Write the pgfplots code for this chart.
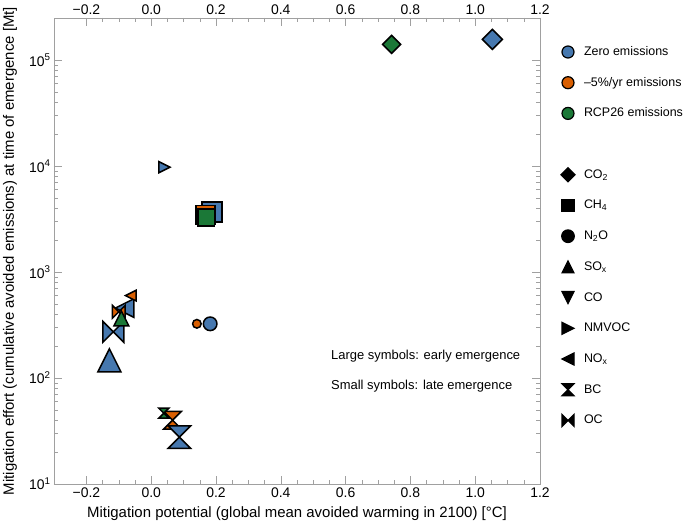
\documentclass[border=0pt]{standalone}
\usepackage{fontspec}
\setmainfont{Liberation Sans}
\usepackage{pgfplots}
\pgfplotsset{compat=1.18}
\definecolor{zblue}{HTML}{4678AF}
\definecolor{zorange}{HTML}{D95F02}
\definecolor{zgreen}{HTML}{1B7837}
\definecolor{axgray}{HTML}{A0A0A0}
\newcommand{\ms}{\pgfplotmarksize}
\pgfdeclareplotmark{dia}{\pgfpathmoveto{\pgfqpoint{0pt}{\ms}}\pgfpathlineto{\pgfqpoint{\ms}{0pt}}\pgfpathlineto{\pgfqpoint{0pt}{-\ms}}\pgfpathlineto{\pgfqpoint{-\ms}{0pt}}\pgfpathclose\pgfusepathqfillstroke}
\pgfdeclareplotmark{sq}{\pgfpathmoveto{\pgfqpoint{-\ms}{-\ms}}\pgfpathlineto{\pgfqpoint{\ms}{-\ms}}\pgfpathlineto{\pgfqpoint{\ms}{\ms}}\pgfpathlineto{\pgfqpoint{-\ms}{\ms}}\pgfpathclose\pgfusepathqfillstroke}
\pgfdeclareplotmark{tup}{\pgfpathmoveto{\pgfqpoint{0pt}{\ms}}\pgfpathlineto{\pgfqpoint{\ms}{-\ms}}\pgfpathlineto{\pgfqpoint{-\ms}{-\ms}}\pgfpathclose\pgfusepathqfillstroke}
\pgfdeclareplotmark{tdn}{\pgfpathmoveto{\pgfqpoint{0pt}{-\ms}}\pgfpathlineto{\pgfqpoint{\ms}{\ms}}\pgfpathlineto{\pgfqpoint{-\ms}{\ms}}\pgfpathclose\pgfusepathqfillstroke}
\pgfdeclareplotmark{trt}{\pgfpathmoveto{\pgfqpoint{\ms}{0pt}}\pgfpathlineto{\pgfqpoint{-\ms}{\ms}}\pgfpathlineto{\pgfqpoint{-\ms}{-\ms}}\pgfpathclose\pgfusepathqfillstroke}
\pgfdeclareplotmark{tlt}{\pgfpathmoveto{\pgfqpoint{-\ms}{0pt}}\pgfpathlineto{\pgfqpoint{\ms}{\ms}}\pgfpathlineto{\pgfqpoint{\ms}{-\ms}}\pgfpathclose\pgfusepathqfillstroke}
\pgfdeclareplotmark{hg}{\pgfpathmoveto{\pgfqpoint{-\ms}{\ms}}\pgfpathlineto{\pgfqpoint{\ms}{\ms}}\pgfpathlineto{\pgfqpoint{-\ms}{-\ms}}\pgfpathlineto{\pgfqpoint{\ms}{-\ms}}\pgfpathclose\pgfusepathqfillstroke}
\pgfdeclareplotmark{bt}{\pgfpathmoveto{\pgfqpoint{-\ms}{\ms}}\pgfpathlineto{\pgfqpoint{-\ms}{-\ms}}\pgfpathlineto{\pgfqpoint{\ms}{\ms}}\pgfpathlineto{\pgfqpoint{\ms}{-\ms}}\pgfpathclose\pgfusepathqfillstroke}
\pgfplotsset{
  mk/.style n args={3}{only marks, forget plot, mark=#1, mark size=#2,
     mark options={fill=#3, draw=black, line width=1.5bp, line join=miter}},
  lg/.style n args={3}{only marks, mark=#1, mark size=#2,
     mark options={fill=#3, draw=black, line width=1.2bp, line join=miter}},
}
\begin{document}
\begin{tikzpicture}
\begin{axis}[scale only axis, width=486bp, height=466bp,
  xmin=-0.3, xmax=1.2, ymode=log, ymin=10, ymax=2.5e5,
  axis line style={axgray}, every tick/.style={axgray},
  tick align=inside, major tick length=8bp, minor tick length=4bp,
  xtick={-0.2,0,0.2,0.4,0.6,0.8,1.0,1.2},
  xticklabels={−0.2,0.0,0.2,0.4,0.6,0.8,1.0,1.2},
  minor x tick num=3,
  tick label style={font=\fontsize{14}{16}\selectfont, black},
  ytick={10,100,1000,10000,100000},
  yticklabels={10\textsuperscript{1},10\textsuperscript{2},10\textsuperscript{3},10\textsuperscript{4},10\textsuperscript{5}},
  xlabel={Mitigation potential (global mean avoided warming in 2100) [°C]},
  ylabel={Mitigation effort (cumulative avoided emissions) at time of emergence [Mt]},
  xlabel style={font=\fontsize{15}{17}\selectfont, at={(axis description cs:0.5,-0.0644)}, anchor=center},
  ylabel style={font=\fontsize{15}{17}\selectfont, at={(axis description cs:-0.0905,0.5)}, anchor=center, rotate=0},
  legend style={at={(axis description cs:1,1)}, anchor=north west, xshift=21bp, yshift=-26.5bp,
     draw=none, fill=none, inner sep=0pt, outer sep=0pt,
     font=\fontsize{12.5}{15}\selectfont, row sep=15.7bp, column sep=8bp,
     nodes={inner sep=1bp, text height=10bp, text depth=3bp, anchor=west}},
  legend image code/.code={\path[draw=none,fill=none] (-6bp,-6bp) rectangle (6bp,6bp); \draw[#1] plot coordinates {(0bp,0bp)};},
]
\coordinate (SW) at (rel axis cs:0,0);
\coordinate (NE) at (rel axis cs:1,1);
% CO2
\addplot[mk={dia}{10bp}{zblue}] coordinates {(1.053,1.57e5)};
\addplot[mk={dia}{9bp}{zgreen}] coordinates {(0.742,1.41e5)};
% CH4
\addplot[mk={sq}{10bp}{zblue}] coordinates {(0.188,3675)};
\addplot[mk={sq}{9.5bp}{zorange}] coordinates {(0.167,3445)};
\addplot[mk={sq}{8.3bp}{zgreen}] coordinates {(0.170,3276)};
% N2O
\addplot[mk={*}{6.8bp}{zblue}] coordinates {(0.182,325)};
\addplot[mk={*}{4.3bp}{zorange}] coordinates {(0.141,325)};
% NMVOC
\addplot[mk={trt}{5.5bp}{zblue}] coordinates {(0.041,9770)};
% SOx
\addplot[mk={tup}{11.5bp}{zblue}] coordinates {(-0.129,147)};
% OC
\addplot[mk={bt}{10.5bp}{zblue}] coordinates {(-0.117,273)};
% NOx
\addplot[mk={tlt}{9.3bp}{zblue}] coordinates {(-0.082,457)};
\addplot[mk={bt}{6.3bp}{zorange}] coordinates {(-0.100,422)};
\addplot[mk={tlt}{5.3bp}{zorange}] coordinates {(-0.063,600)};
\addplot[mk={tup}{7.5bp}{zgreen}] coordinates {(-0.092,365)};
% BC
\addplot[mk={hg}{8.8bp}{zorange}] coordinates {(0.066,40)};
\addplot[mk={hg}{11.3bp}{zblue}] coordinates {(0.087,27.7)};
\addplot[mk={hg}{5bp}{zgreen}] coordinates {(0.039,46.6)};
% legend
\addlegendimage{lg={*}{6bp}{zblue}}
\addlegendentry{Zero emissions}
\addlegendimage{lg={*}{6bp}{zorange}}
\addlegendentry{–5\%/yr emissions}
\addlegendimage{lg={*}{6bp}{zgreen}}
\addlegendentry{RCP26 emissions}
\addlegendimage{empty legend}
\addlegendentry{}
\addlegendimage{lg={dia}{7bp}{black}}
\addlegendentry{CO\textsubscript{2}}
\addlegendimage{lg={sq}{6bp}{black}}
\addlegendentry{CH\textsubscript{4}}
\addlegendimage{lg={*}{6.3bp}{black}}
\addlegendentry{N\textsubscript{2}O}
\addlegendimage{lg={tup}{6bp}{black}}
\addlegendentry{SO\textsubscript{x}}
\addlegendimage{lg={tdn}{6bp}{black}}
\addlegendentry{CO}
\addlegendimage{lg={trt}{6bp}{black}}
\addlegendentry{NMVOC}
\addlegendimage{lg={tlt}{6bp}{black}}
\addlegendentry{NO\textsubscript{x}}
\addlegendimage{lg={hg}{6bp}{black}}
\addlegendentry{BC}
\addlegendimage{lg={bt}{6bp}{black}}
\addlegendentry{OC}
\node[anchor=west, font=\fontsize{13}{15}\selectfont] at (rel axis cs:0.563,0.274) {Large symbols: early emergence};
\node[anchor=west, font=\fontsize{13}{15}\selectfont] at (rel axis cs:0.563,0.209) {Small symbols: late emergence};
\end{axis}
\begin{axis}[scale only axis, width=486bp, height=466bp,
  xmin=-0.3, xmax=1.2, ymin=0, ymax=1,
  axis line style={axgray}, every tick/.style={axgray},
  tick align=inside, major tick length=8bp, minor tick length=4bp,
  xtick={-0.2,0,0.2,0.4,0.6,0.8,1.0,1.2},
  xticklabels={−0.2,0.0,0.2,0.4,0.6,0.8,1.0,1.2},
  minor x tick num=3,
  tick label style={font=\fontsize{14}{16}\selectfont, black},
  hide y axis, xticklabel pos=upper]
\end{axis}
\pgfresetboundingbox
\useasboundingbox ([shift={(-54bp,-44bp)}]SW) rectangle ([shift={(145bp,18bp)}]NE);
\end{tikzpicture}
\end{document}
